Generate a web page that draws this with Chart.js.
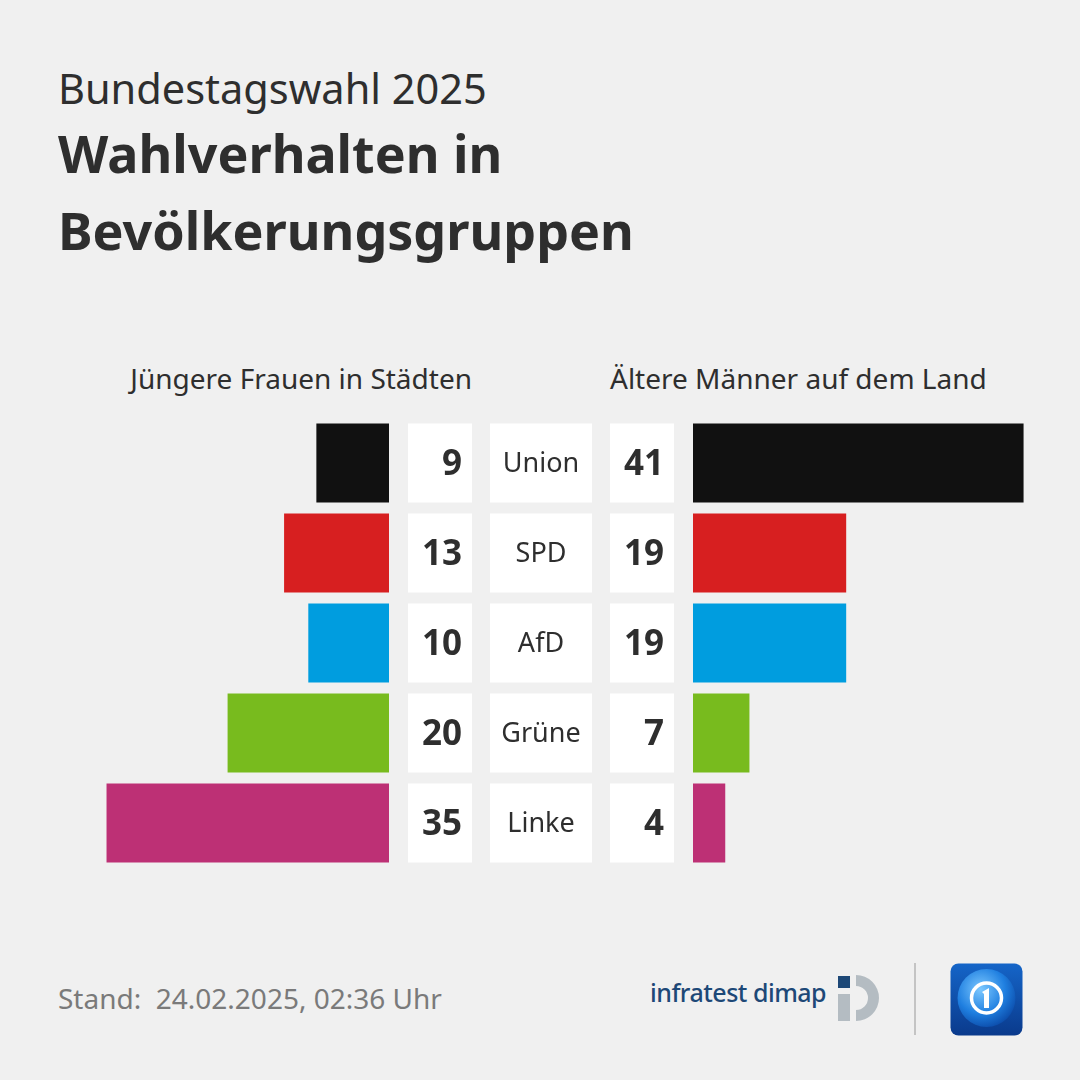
<!DOCTYPE html>
<html lang="de">
<head>
<meta charset="utf-8">
<script src="https://cdn.jsdelivr.net/npm/chart.js@4"></script>
<style>
  html, body { margin: 0; padding: 0; }
  body { width: 1080px; height: 1080px; background: #f0f0f0; position: relative; overflow: hidden;
         font-family: "Noto Sans", sans-serif; color: #2e2e2e; }
  .abs { position: absolute; white-space: nowrap; }
  #kicker { left: 58px; top: 60px; font-size: 41.5px; font-weight: 400; line-height: 56px; }
  #title { left: 58px; top: 114px; font-size: 52px; font-weight: 700; line-height: 77px; }
  .head { top: 358px; font-size: 28px; line-height: 40px; }
  #headL { right: 608px; }
  #headR { left: 610px; }
  #wrapL { left: 0; top: 418px; width: 690px; height: 450px; }
  #wrapR { left: 693px; top: 418px; width: 387px; height: 450px; }
  #stand { left: 58px; top: 978px; font-size: 28px; color: #7a7a7a; line-height: 40px; }
  #infra { left: 650px; top: 975px; font-size: 25px; color: #1d4877; font-weight: 500; letter-spacing: -0.5px; }
</style>
</head>
<body>
<div id="kicker" class="abs">Bundestagswahl 2025</div>
<div id="title" class="abs">Wahlverhalten in<br>Bevölkerungsgruppen</div>
<div id="headL" class="abs head">Jüngere Frauen in Städten</div>
<div id="headR" class="abs head">Ältere Männer auf dem Land</div>
<div id="wrapL" class="abs"><canvas id="left"></canvas></div>
<div id="wrapR" class="abs"><canvas id="right"></canvas></div>
<div id="stand" class="abs">Stand:&nbsp; 24.02.2025, 02:36 Uhr</div>
<div id="infra" class="abs">infratest dimap</div>
<svg class="abs" style="left:836px;top:972px" width="50" height="52" viewBox="0 0 50 52">
  <rect x="2" y="4" width="12" height="12" fill="#1d4877"/>
  <path d="M20 3 A23 23 0 1 1 20 49 L20 38 A12 12 0 1 0 20 14 Z" fill="#b4bcc2"/>
  <rect x="2" y="22" width="12" height="27" fill="#b4bcc2"/>
</svg>
<div class="abs" style="left:914px;top:963px;width:2px;height:72px;background:#c4c4c4"></div>
<svg class="abs" style="left:950px;top:963px" width="73" height="73" viewBox="0 0 73 73">
  <defs>
    <linearGradient id="bg" x1="0" y1="0" x2="0" y2="1">
      <stop offset="0" stop-color="#1565c8"/>
      <stop offset="1" stop-color="#0a3a8c"/>
    </linearGradient>
    <radialGradient id="globe" cx="0.4" cy="0.35" r="0.7">
      <stop offset="0" stop-color="#7cc8ff"/>
      <stop offset="0.6" stop-color="#1f7fe0"/>
      <stop offset="1" stop-color="#0b4aa8"/>
    </radialGradient>
  </defs>
  <rect x="0.5" y="0.5" width="72" height="72" rx="8" fill="url(#bg)"/>
  <circle cx="36.5" cy="35" r="29" fill="url(#globe)"/>
  <circle cx="36.5" cy="35" r="15" fill="none" stroke="#ffffff" stroke-width="3.5"/>
  <path d="M32 29 L39 25 L39 45 L34 45 L34 31 Z" fill="#ffffff"/>
</svg>

<script>
  const parties = ['Union', 'SPD', 'AfD', 'Grüne', 'Linke'];
  const youngWomenCity = [9, 13, 10, 20, 35];
  const olderMenRural = [41, 19, 19, 7, 4];
  const partyColors = ['#111111', '#d71f20', '#009ddf', '#78bb1e', '#bd3075'];

  const FONT = '"Noto Sans", sans-serif';
  const TEXT = '#2e2e2e';

  // white number/label boxes between the two bar charts, placed on the category rows
  const centerBoxes = {
    id: 'centerBoxes',
    afterDatasetsDraw(chart) {
      const { ctx } = chart;
      const y = chart.scales.y;
      const meta = chart.getDatasetMeta(0);
      ctx.save();
      parties.forEach((p, i) => {
        const cy = y.getPixelForValue(i);
        const h = meta.data[i].height;
        const top = cy - h / 2;
        ctx.fillStyle = '#ffffff';
        ctx.fillRect(408, top, 64, h);
        ctx.fillRect(490, top, 102, h);
        ctx.fillRect(610, top, 64, h);
        ctx.fillStyle = TEXT;
        ctx.textBaseline = 'middle';
        ctx.font = '700 35px ' + FONT;
        ctx.textAlign = 'right';
        ctx.fillText(String(youngWomenCity[i]), 462, cy + 2);
        ctx.fillText(String(olderMenRural[i]), 664, cy + 2);
        ctx.font = '400 27px ' + FONT;
        ctx.textAlign = 'center';
        ctx.fillText(p, 541, cy + 1);
      });
      ctx.restore();
    }
  };

  function barOptions(reverse, max, padRight) {
    return {
      indexAxis: 'y',
      responsive: true,
      maintainAspectRatio: false,
      animation: false,
      layout: { padding: { left: 0, right: padRight, top: 0, bottom: 0 } },
      plugins: { legend: { display: false }, tooltip: { enabled: false } },
      scales: {
        x: { display: false, min: 0, max: max, reverse: reverse },
        y: { display: false }
      }
    };
  }

  new Chart(document.getElementById('left'), {
    type: 'bar',
    data: {
      labels: parties,
      datasets: [{
        data: youngWomenCity,
        backgroundColor: partyColors,
        barPercentage: 1,
        categoryPercentage: 0.878
      }]
    },
    options: barOptions(true, 48.2, 301),
    plugins: [centerBoxes]
  });

  new Chart(document.getElementById('right'), {
    type: 'bar',
    data: {
      labels: parties,
      datasets: [{
        data: olderMenRural,
        backgroundColor: partyColors,
        barPercentage: 1,
        categoryPercentage: 0.878
      }]
    },
    options: barOptions(false, 48.0, 0)
  });
</script>
</body>
</html>
